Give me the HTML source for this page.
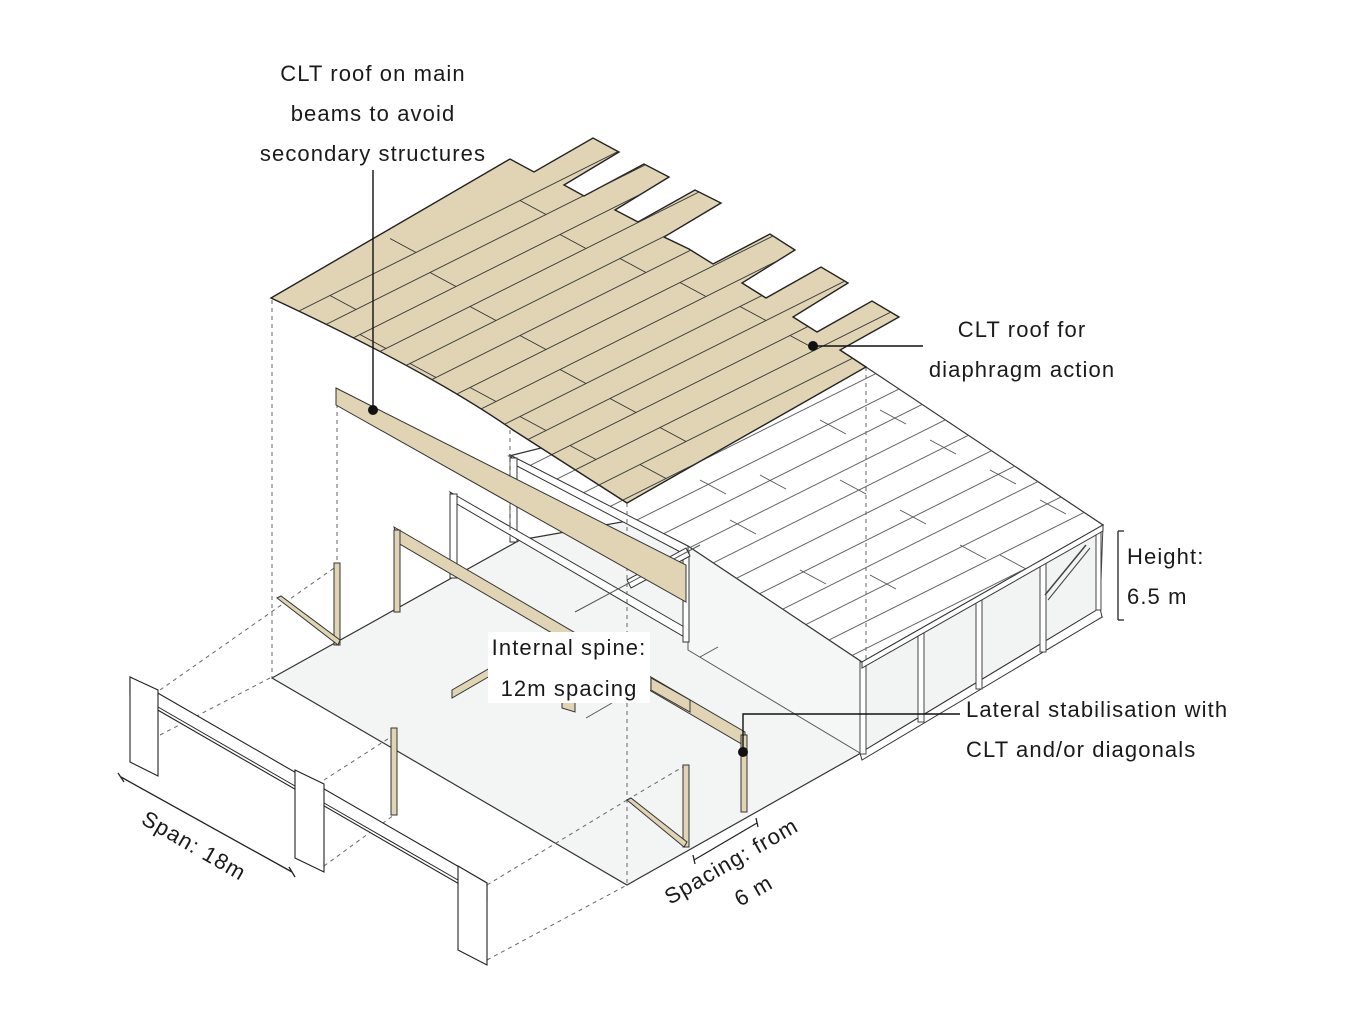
<!DOCTYPE html>
<html><head><meta charset="utf-8"><style>
html,body{margin:0;padding:0;background:#fff;}
svg{display:block;}
text{font-family:"Liberation Sans",sans-serif;font-size:22px;fill:#1a1a1a;letter-spacing:1.1px;}
</style></head><body>
<svg width="1350" height="1028" viewBox="0 0 1350 1028" xmlns="http://www.w3.org/2000/svg">
<defs>
<clipPath id="tanclip"><path d="M271,298 L510,159 L534,172 L593,138 L619,152 L564,185 L584,196 L644,164 L669,177 L615,210 L638,222 L695,190 L721,203 L664,237 L689,249 L713,264 L770,234 L795,250 L742,283 L766,298 L821,267 L848,283 L793,317 L817,332 L872,301 L899,317 L840,350 L866,367 L627,503 Q560,460 513,430 Q430,372 271,298 Z"/></clipPath>
<clipPath id="whclip"><path d="M509,456 L866,367 L1103,525 L862,662 L688,546 Z"/></clipPath>
<g id="seams">
<line x1="271" y1="325" x2="1110" y2="-94.5"/><line x1="271" y1="352" x2="1110" y2="-67.5"/>
<line x1="271" y1="379" x2="1110" y2="-40.5"/><line x1="271" y1="406" x2="1110" y2="-13.5"/>
<line x1="271" y1="433" x2="1110" y2="13.5"/><line x1="271" y1="460" x2="1110" y2="40.5"/>
<line x1="271" y1="487" x2="1110" y2="67.5"/><line x1="271" y1="514" x2="1110" y2="94.5"/>
<line x1="271" y1="541" x2="1110" y2="121.5"/><line x1="271" y1="568" x2="1110" y2="148.5"/>
<line x1="271" y1="595" x2="1110" y2="175.5"/><line x1="271" y1="622" x2="1110" y2="202.5"/>
<line x1="271" y1="649" x2="1110" y2="229.5"/><line x1="271" y1="676" x2="1110" y2="256.5"/>
<line x1="271" y1="703" x2="1110" y2="283.5"/><line x1="271" y1="730" x2="1110" y2="310.5"/>
<line x1="271" y1="757" x2="1110" y2="337.5"/><line x1="271" y1="784" x2="1110" y2="364.5"/>
<line x1="271" y1="811" x2="1110" y2="391.5"/><line x1="271" y1="838" x2="1110" y2="418.5"/>
<line x1="271" y1="865" x2="1110" y2="445.5"/><line x1="271" y1="892" x2="1110" y2="472.5"/>
<line x1="271" y1="919" x2="1110" y2="499.5"/><line x1="271" y1="946" x2="1110" y2="526.5"/>
</g>
</defs>

<!-- floor slab -->
<path d="M272,678 L520,540 L860,480 L1102,617 L627,885 Z" fill="#f3f5f5" stroke="#333" stroke-width="1.2"/>

<!-- right building walls -->
<path d="M688,546 L862,662 L860,753 L688,650 Z" fill="#f5f7f7" stroke="#555" stroke-width="1"/>
<path d="M862,662 L1103,525 L1100,608 L860,753 Z" fill="#f2f4f4" stroke="#444" stroke-width="1"/>
<path d="M860,753 L1100,608 L1102,617 L862,760 Z" fill="#fff" stroke="#333" stroke-width="1"/>
<g fill="#fff" stroke="#444" stroke-width="1">
<rect x="860" y="662" width="6" height="92"/>
<rect x="918" y="630" width="6" height="92"/>
<rect x="976" y="597" width="6" height="92"/>
<rect x="1040" y="562" width="6" height="90"/>
<rect x="1096" y="530" width="5" height="80"/>
</g>
<line x1="1045" y1="595" x2="1086" y2="545" stroke="#444" stroke-width="1.5"/>
<line x1="1048" y1="600" x2="1090" y2="548" stroke="#444" stroke-width="1"/>

<!-- white roof -->
<path d="M509,456 L866,367 L1103,525 L862,662 L688,546 Z" fill="#fff" stroke="#333" stroke-width="1.2"/>
<path d="M862,662 L1103,525 L1103,531 L862,668 Z" fill="#fff" stroke="#333" stroke-width="1"/>
<g clip-path="url(#whclip)" stroke="#555" stroke-width="0.9"><use href="#seams"/>
<line x1="700" y1="480" x2="726" y2="494"/><line x1="760" y1="475" x2="786" y2="489"/>
<line x1="820" y1="420" x2="846" y2="434"/><line x1="880" y1="410" x2="906" y2="424"/>
<line x1="840" y1="480" x2="866" y2="494"/><line x1="930" y1="440" x2="956" y2="454"/>
<line x1="900" y1="510" x2="926" y2="524"/><line x1="990" y1="470" x2="1016" y2="484"/>
<line x1="960" y1="545" x2="986" y2="559"/><line x1="870" y1="575" x2="896" y2="589"/>
<line x1="800" y1="570" x2="826" y2="584"/><line x1="1040" y1="500" x2="1066" y2="514"/>
<line x1="1000" y1="555" x2="1026" y2="569"/><line x1="730" y1="520" x2="756" y2="534"/>
</g>

<!-- white inner frames -->
<g fill="#fff" stroke="#333" stroke-width="1">
<path d="M510,455 L688,546 L688,556 L517,466 Z"/>
<rect x="510" y="458" width="7" height="84"/>
<path d="M450,492 L686,628 L686,638 L457,504 Z"/>
<rect x="450" y="494" width="7" height="84"/>
<rect x="683" y="552" width="6" height="90"/>
<path d="M627,580 L686,548 L690,556 L631,588 Z"/>
</g>
<line x1="575" y1="612" x2="700" y2="545" stroke="#555" stroke-width="1"/>
<line x1="586" y1="718" x2="612" y2="703" stroke="#555" stroke-width="1"/>
<line x1="700" y1="657" x2="718" y2="647" stroke="#555" stroke-width="1"/>

<!-- dashed projection lines -->
<g stroke="#666" stroke-width="1" stroke-dasharray="4,4" fill="none">
<line x1="272" y1="300" x2="272" y2="678"/>
<line x1="337" y1="404" x2="337" y2="566"/>
<line x1="510" y1="430" x2="510" y2="540"/>
<line x1="627" y1="503" x2="627" y2="885"/>
<line x1="866" y1="367" x2="866" y2="660"/>
<line x1="160" y1="690" x2="337" y2="566"/>
<line x1="160" y1="735" x2="272" y2="677"/>
<line x1="324" y1="780" x2="394" y2="735"/>
<line x1="324" y1="866" x2="394" y2="815"/>
<line x1="487" y1="885" x2="627" y2="800"/>
<line x1="487" y1="960" x2="627" y2="885"/>
<line x1="627" y1="800" x2="686" y2="765"/>
</g>

<!-- tan roof -->
<path d="M271,298 L510,159 L534,172 L593,138 L619,152 L564,185 L584,196 L644,164 L669,177 L615,210 L638,222 L695,190 L721,203 L664,237 L689,249 L713,264 L770,234 L795,250 L742,283 L766,298 L821,267 L848,283 L793,317 L817,332 L872,301 L899,317 L840,350 L866,367 L627,503 Q560,460 513,430 Q430,372 271,298 Z" fill="#e0d4b4" stroke="#222" stroke-width="1.4"/>
<g clip-path="url(#tanclip)" stroke="#333" stroke-width="0.9"><use href="#seams"/>
<line x1="390" y1="238.5" x2="416" y2="252.5"/><line x1="330" y1="295.5" x2="356" y2="309.5"/>
<line x1="520" y1="200.5" x2="546" y2="214.5"/><line x1="430" y1="272.5" x2="456" y2="286.5"/>
<line x1="360" y1="334.5" x2="386" y2="348.5"/><line x1="560" y1="234.5" x2="586" y2="248.5"/>
<line x1="470" y1="306.5" x2="496" y2="320.5"/><line x1="410" y1="363.5" x2="436" y2="377.5"/>
<line x1="620" y1="258.5" x2="646" y2="272.5"/><line x1="520" y1="335.5" x2="546" y2="349.5"/>
<line x1="470" y1="387.5" x2="496" y2="401.5"/><line x1="680" y1="282.5" x2="706" y2="296.5"/>
<line x1="560" y1="369.5" x2="586" y2="383.5"/><line x1="520" y1="416.5" x2="546" y2="430.5"/>
<line x1="740" y1="306.5" x2="766" y2="320.5"/><line x1="610" y1="398.5" x2="636" y2="412.5"/>
<line x1="570" y1="445.5" x2="596" y2="459.5"/><line x1="790" y1="335.5" x2="816" y2="349.5"/>
<line x1="660" y1="427.5" x2="686" y2="441.5"/><line x1="640" y1="464.5" x2="666" y2="478.5"/>
</g>

<!-- tan structural members -->
<g fill="#e0d4b4" stroke="#333" stroke-width="1">
<path d="M336,388 L686,565 L686,602 L336,405 Z"/>
<path d="M394,527 L745,732 L745,746 L398,543 Z"/>
<rect x="394" y="530" width="6" height="82"/>
<rect x="741" y="735" width="6" height="77"/>
<rect x="334" y="563" width="6" height="82"/>
<path d="M277,598 L281,596 L340,640 L338,645 Z"/>
<rect x="683" y="765" width="6" height="82"/>
<path d="M627,800 L631,798 L687,842 L684,847 Z"/>
<rect x="391" y="728" width="6" height="87"/>
<path d="M452,690 L490,668 L490,676 L452,698 Z"/>
<path d="M651,678 L690,700 L690,712 L651,690 Z"/>
<path d="M562,668 L575,672 L575,712 L562,708 Z"/>
</g>

<!-- front exploded portal frame -->
<g fill="#fff" stroke="#222" stroke-width="1.1">
<path d="M130,677 L487,883 L487,900 L130,694 Z"/>
<path d="M130,677 L158,690 L158,776 L130,762 Z"/>
<path d="M295,770 L324,784 L324,872 L295,858 Z"/>
<path d="M458,866 L487,883 L487,965 L458,950 Z"/>
</g>
<g stroke="#222" stroke-width="1" fill="none">
<line x1="158" y1="707" x2="295" y2="786"/>
<line x1="324" y1="803" x2="458" y2="880"/>
</g>

<!-- dimension lines -->
<g stroke="#222" stroke-width="1.3" fill="none">
<line x1="121" y1="777" x2="292" y2="872"/>
<line x1="118" y1="773" x2="124" y2="782"/><line x1="289" y1="867" x2="295" y2="877"/>
<line x1="694" y1="860" x2="757" y2="823"/>
<line x1="693" y1="855" x2="695" y2="864"/><line x1="756" y1="818" x2="758" y2="827"/>
<line x1="1118" y1="531" x2="1118" y2="620"/>
<line x1="1118" y1="531" x2="1124" y2="531"/><line x1="1118" y1="620" x2="1124" y2="620"/>
</g>

<!-- leaders -->
<g stroke="#111" stroke-width="1.4" fill="none">
<line x1="373" y1="170" x2="373" y2="410"/>
<line x1="813" y1="346" x2="923" y2="346"/>
<polyline points="743,752 743,714 960,714"/>
</g>
<circle cx="373" cy="410" r="5" fill="#111"/>
<circle cx="813" cy="346" r="5" fill="#111"/>
<circle cx="743" cy="752" r="5" fill="#111"/>

<!-- labels -->
<text x="373" y="81" text-anchor="middle">CLT roof on main</text>
<text x="373" y="121" text-anchor="middle">beams to avoid</text>
<text x="373" y="161" text-anchor="middle">secondary structures</text>
<text x="1022" y="337" text-anchor="middle">CLT roof for</text>
<text x="1022" y="377" text-anchor="middle">diaphragm action</text>
<text x="1127" y="564">Height:</text>
<text x="1127" y="604">6.5 m</text>
<rect x="488" y="632" width="162" height="71" fill="#fff"/>
<text x="569" y="655" text-anchor="middle">Internal spine:</text>
<text x="569" y="696" text-anchor="middle">12m spacing</text>
<text x="966" y="717">Lateral stabilisation with</text>
<text x="966" y="757">CLT and/or diagonals</text>
<text transform="translate(140,823) rotate(30)">Span: 18m</text>
<text transform="translate(670,905) rotate(-30)">Spacing: from</text>
<text transform="translate(740,907) rotate(-30)">6 m</text>
</svg>
</body></html>
